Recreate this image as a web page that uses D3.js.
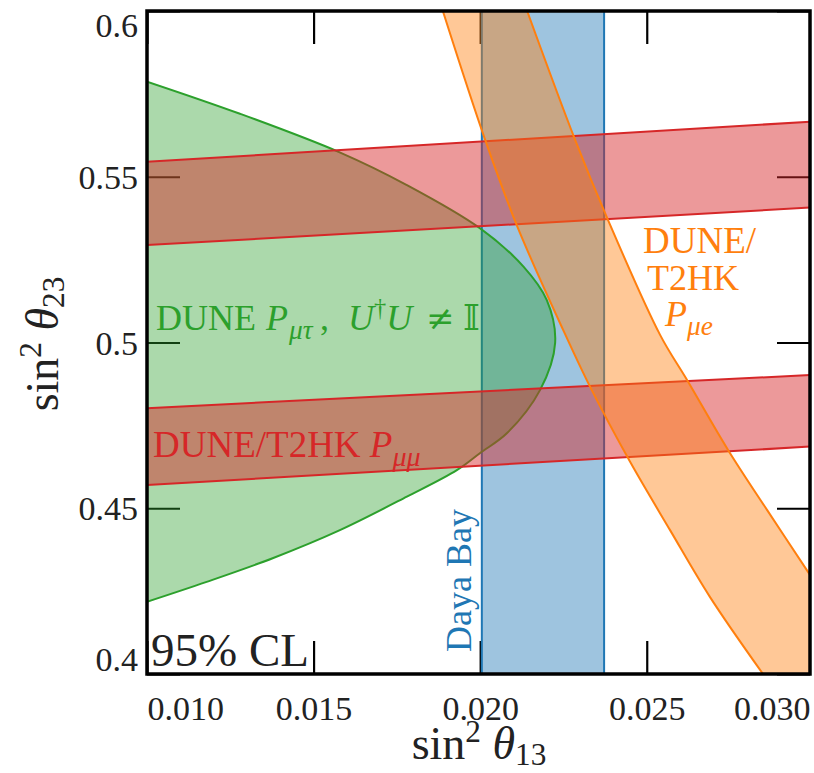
<!DOCTYPE html>
<html><head><meta charset="utf-8">
<script src="https://cdn.jsdelivr.net/npm/d3@7"></script>
<style>body{margin:0;background:#fff}svg{display:block}</style>
</head><body>
<script>
// ---- data ----
const xTicks = [0.010, 0.015, 0.020, 0.025, 0.030];
const yTicks = [0.40, 0.45, 0.50, 0.55, 0.60];
const xTickLabels = ["0.010", "0.015", "0.020", "0.025", "0.030"];
const yTickLabels = ["0.4", "0.45", "0.5", "0.55", "0.6"];

// Daya Bay sin^2 theta13 interval
const dayaBay = [0.02005, 0.02372];

// DUNE/T2HK P_mumu bands (two octant solutions): edges [sin2th13, sin2th23]
const pmmUpperTop = [[0.010, 0.5545], [0.0299, 0.5666]];
const pmmUpperBot = [[0.010, 0.5294], [0.0299, 0.5407]];
const pmmLowerTop = [[0.010, 0.4802], [0.0299, 0.4902]];
const pmmLowerBot = [[0.010, 0.4570], [0.0299, 0.4686]];

// DUNE P_mutau, non-unitary region boundary (upper branch then lower branch)
const pmtUpper = [[0.0100, 0.5787], [0.01279, 0.5690], [0.01580, 0.5573], [0.01780, 0.5475],
                  [0.01999, 0.5345], [0.02130, 0.5229], [0.02200, 0.5128], [0.02225, 0.4999]];
const pmtLower = [[0.02180, 0.4857], [0.02080, 0.4726], [0.01999, 0.4666], [0.01930, 0.4615],
                  [0.01780, 0.4535], [0.01579, 0.4434], [0.01379, 0.4350], [0.01179, 0.4278], [0.0100, 0.4218]];

// DUNE/T2HK P_mue band edges
const pmeLeft = [[0.01888, 0.600], [0.02015, 0.5611], [0.02111, 0.5351], [0.02249, 0.5038], [0.02330, 0.4866],
                 [0.02450, 0.4640], [0.02570, 0.4434], [0.02690, 0.4232], [0.02849, 0.400]];
const pmeRight = [[0.02141, 0.600], [0.02285, 0.5611], [0.02381, 0.5376], [0.02540, 0.5023], [0.02621, 0.4887],
                  [0.02744, 0.4676], [0.02861, 0.4495], [0.0299, 0.4299]];

const colors = {green: "#2ca02c", red: "#d62728", blue: "#1f77b4", orange: "#ff7f0e"};

// ---- drawing ----
const W = 814, H = 773;
const L = 147, R = 810, T = 11, B = 674;
const FONT = "'Liberation Serif','Times New Roman',serif";

const x = d3.scaleLinear().domain([0.010, 0.0299]).range([L, R]);
const y = d3.scaleLinear().domain([0.40, 0.60]).range([B, T]);

const svg = d3.select("body").append("svg").attr("width", W).attr("height", H)
  .style("font-family", FONT);

svg.append("defs").append("clipPath").attr("id", "clip")
  .append("rect").attr("x", L).attr("y", T).attr("width", R - L).attr("height", B - T);

const TL = 33;
// ticks (inward, all four sides), drawn under the fills
const axB = svg.append("g").attr("transform", `translate(0,${B})`)
  .call(d3.axisBottom(x).tickValues(xTicks).tickSizeInner(-TL).tickSizeOuter(0)
        .tickFormat((d, i) => xTickLabels[i]));
const axT = svg.append("g").attr("transform", `translate(0,${T})`)
  .call(d3.axisTop(x).tickValues(xTicks).tickSizeInner(-TL).tickSizeOuter(0).tickFormat(""));
const axLf = svg.append("g").attr("transform", `translate(${L},0)`)
  .call(d3.axisLeft(y).tickValues(yTicks).tickSizeInner(-TL).tickSizeOuter(0)
        .tickFormat((d, i) => yTickLabels[i]));
const axRt = svg.append("g").attr("transform", `translate(${R},0)`)
  .call(d3.axisRight(y).tickValues(yTicks).tickSizeInner(-TL).tickSizeOuter(0).tickFormat(""));

[axB, axT, axLf, axRt].forEach(g => {
  g.select(".domain").remove();
  g.selectAll(".tick line").attr("stroke", "#000").attr("stroke-width", 2.2);
  g.selectAll(".tick").filter(d => (x.domain()[1] < d && d < 0.1)).select("line").remove();
});

axB.selectAll(".tick text")
  .attr("font-family", FONT).attr("font-size", 34).attr("fill", "#222")
  .attr("y", 0).attr("dy", 46)
  .each(function (d, i) {
    const t = d3.select(this);
    if (i === 0) { t.attr("text-anchor", "start"); t.attr("x", 0); }
    else if (i === xTicks.length - 1) {
      t.attr("text-anchor", "end");
      t.attr("x", R - x(d));
    }
  });
axLf.selectAll(".tick text")
  .attr("font-family", FONT).attr("font-size", 34).attr("fill", "#222")
  .attr("x", -9)
  .attr("dy", (d, i) => i === 0 ? -4 : (i === yTicks.length - 1 ? 25 : "0.34em"));

const plot = svg.append("g").attr("clip-path", "url(#clip)");
const line = d3.line().x(d => x(d[0])).y(d => y(d[1]));
const curve = d3.line().x(d => x(d[0])).y(d => y(d[1])).curve(d3.curveCatmullRom.alpha(0.5));

// Daya Bay (blue)
plot.append("rect").attr("x", x(dayaBay[0])).attr("y", T)
  .attr("width", x(dayaBay[1]) - x(dayaBay[0])).attr("height", B - T)
  .attr("fill", colors.blue).attr("fill-opacity", 0.43);
dayaBay.forEach(v => plot.append("line").attr("x1", x(v)).attr("x2", x(v))
  .attr("y1", T).attr("y2", B).attr("stroke", colors.blue).attr("stroke-width", 2));

// DUNE P_mutau (green)
const pmtPts = pmtUpper.concat(pmtLower);
plot.append("path").attr("d", curve(pmtPts) + "Z")
  .attr("fill", colors.green).attr("fill-opacity", 0.4);
plot.append("path").attr("d", curve(pmtPts)).attr("fill", "none")
  .attr("stroke", colors.green).attr("stroke-width", 2);

// DUNE/T2HK P_mumu (red)
[[pmmUpperTop, pmmUpperBot], [pmmLowerTop, pmmLowerBot]].forEach(([tp, bt]) => {
  plot.append("path").attr("d", line(tp.concat(bt.slice().reverse())) + "Z")
    .attr("fill", colors.red).attr("fill-opacity", 0.47);
  [tp, bt].forEach(e => plot.append("path").attr("d", line(e)).attr("fill", "none")
    .attr("stroke", colors.red).attr("stroke-width", 2));
});

// DUNE/T2HK P_mue (orange)
const pmeFill = curve(pmeLeft) + "L" + x(0.0299) + "," + y(0.40) +
  curve(pmeRight.slice().reverse()).replace(/^M/, "L") + "Z";
plot.append("path").attr("d", pmeFill).attr("fill", colors.orange).attr("fill-opacity", 0.43);
[pmeLeft, pmeRight].forEach(e => plot.append("path").attr("d", curve(e)).attr("fill", "none")
  .attr("stroke", colors.orange).attr("stroke-width", 2));

// frame
svg.append("rect").attr("x", L).attr("y", T).attr("width", R - L).attr("height", B - T)
  .attr("fill", "none").attr("stroke", "#000").attr("stroke-width", 3.5);

// ---- text ----
function rich(g, parts, size) {
  const t = g.append("text").attr("font-size", size);
  parts.forEach(p => {
    const s = t.append("tspan").text(p.t);
    if (p.i) s.attr("font-style", "italic");
    if (p.f) s.attr("font-family", p.f);
    if (p.fs) s.attr("font-size", p.fs);
    if (p.sub) s.attr("font-size", size * (p.ss || 0.68)).attr("dy", size * (p.sd || 0.2));
    if (p.sup) s.attr("font-size", size * 0.68).attr("dy", -size * 0.38);
    if (p.back !== undefined) s.attr("dy", p.back);
    if (p.x !== undefined) s.attr("x", p.x);
    if (p.dx) s.attr("dx", p.dx);
  });
  return t;
}

// green label
rich(svg, [{t: "DUNE"}, {t: "P", i: 1, x: 266}, {t: "μτ", i: 1, sub: 1, sd: 0.24, ss: 0.76, x: 289},
  {t: ",", back: -36 * 0.24, x: 320},
  {t: "U", i: 1, x: 348}, {t: "†", sup: 1}, {t: "U", i: 1, back: 36 * 0.38},
  {t: "≠", x: 426, f: "'DejaVu Serif',serif", fs: 34},
  {t: "𝕀", x: 463, f: "'DejaVu Serif','DejaVu Sans',serif"}], 36)
  .attr("x", 156).attr("y", 330).attr("fill", colors.green);

// red label
rich(svg, [{t: "DUNE/T2HK "}, {t: "P", i: 1}, {t: "μμ", i: 1, sub: 1, sd: 0.24, ss: 0.76}], 37)
  .attr("x", 153).attr("y", 457).attr("fill", colors.red);

// orange label
svg.append("text").attr("x", 643).attr("y", 253).attr("font-size", 37).attr("fill", colors.orange).text("DUNE/");
svg.append("text").attr("x", 647).attr("y", 290).attr("font-size", 36).attr("fill", colors.orange).text("T2HK");
rich(svg, [{t: "P", i: 1}, {t: "μe", i: 1, sub: 1, sd: 0.24, ss: 0.76}], 36)
  .attr("x", 665).attr("y", 326).attr("fill", colors.orange);

// Daya Bay label
svg.append("text").attr("transform", "translate(471,652) rotate(-90)")
  .attr("font-size", 36).attr("fill", colors.blue).text("Daya Bay");

// 95% CL
svg.append("text").attr("x", 151).attr("y", 666).attr("font-size", 47).attr("fill", "#222").text("95% CL");

// axis labels
rich(svg, [{t: "sin"}, {t: "2", sup: 1}, {t: " θ", i: 1, back: 46 * 0.38}, {t: "13", sub: 1, sd: 0.12}], 46)
  .attr("x", 479).attr("y", 759).attr("text-anchor", "middle").attr("fill", "#222");
rich(svg, [{t: "sin"}, {t: "2", sup: 1}, {t: " θ", i: 1, back: 46 * 0.38}, {t: "23", sub: 1, sd: 0.12}], 46)
  .attr("transform", "translate(58,344) rotate(-90)").attr("text-anchor", "middle").attr("fill", "#222");
</script>
</body></html>
